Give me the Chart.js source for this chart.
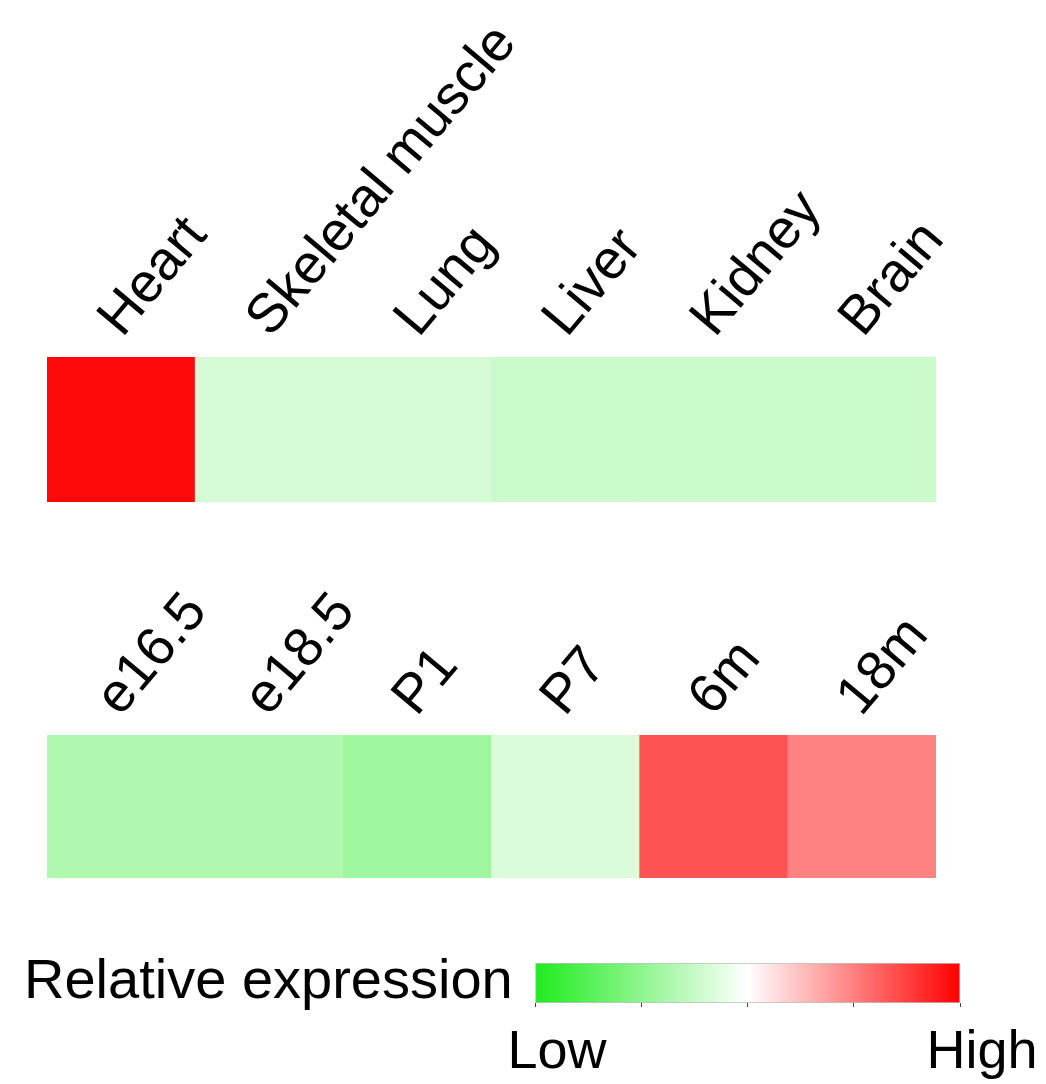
<!DOCTYPE html>
<html>
<head>
<meta charset="utf-8">
<script src="https://cdn.jsdelivr.net/npm/chart.js@4.4.1/dist/chart.umd.min.js"></script>
<style>
  html, body { margin: 0; padding: 0; background: #fff; }
  body { width: 1046px; height: 1084px; position: relative; overflow: hidden;
         font-family: "Liberation Sans", Arial, sans-serif; }
  canvas { position: absolute; left: 0; }
  #legendTitle { position: absolute; left: 24px; top: 951px; font-size: 56px; line-height: 56px;
                 color: #000; white-space: nowrap; }
</style>
</head>
<body>
<canvas id="tissueChart" width="1046" height="520" style="top:0px"></canvas>
<canvas id="stageChart" width="1046" height="380" style="top:520px"></canvas>
<canvas id="scaleChart" width="1046" height="144" style="top:940px"></canvas>
<div id="legendTitle">Relative expression</div>
<script>
// Relative expression on a -1 (low) .. +1 (high) scale
const tissues = ['Heart', 'Skeletal muscle', 'Lung', 'Liver', 'Kidney', 'Brain'];
const tissueExpression = [0.96, -0.19, -0.19, -0.23, -0.23, -0.23];

const stages = ['e16.5', 'e18.5', 'P1', 'P7', '6m', '18m'];
const stageExpression = [-0.35, -0.35, -0.43, -0.16, 0.68, 0.49];

const scaleLabels = ['Low', 'High'];
const scaleTicks = [0, 0.25, 0.5, 0.75, 1];

const FONT = '"Liberation Sans", Arial, sans-serif';
const LOW_RGB = [30, 235, 30];
const MID_RGB = [255, 255, 255];
const HIGH_RGB = [255, 0, 0];

// green - white - red colour map
function expressionColor(v) {
  const t = Math.min(1, Math.abs(v));
  const end = v < 0 ? LOW_RGB : HIGH_RGB;
  const c = MID_RGB.map((m, i) => Math.round(m + (end[i] - m) * t));
  return 'rgb(' + c.join(',') + ')';
}

function heatmapRow(id, labels, values, axisHeight, bottomPad, tickPadding, labelOffset) {
  return new Chart(document.getElementById(id), {
    type: 'bar',
    data: {
      labels: labels,
      datasets: [{
        data: values.map(() => [0, 1]),
        backgroundColor: values.map(expressionColor),
        borderWidth: 0,
        barPercentage: 1,
        categoryPercentage: 1
      }]
    },
    options: {
      responsive: false,
      animation: false,
      devicePixelRatio: 1,
      layout: { padding: { left: 47, right: 110, top: 0, bottom: bottomPad } },
      plugins: { legend: { display: false }, tooltip: { enabled: false } },
      scales: {
        x: {
          position: 'top',
          grid: { display: false, drawTicks: false },
          border: { display: false },
          ticks: {
            color: '#000',
            font: { family: FONT, size: 55 },
            minRotation: 50,
            maxRotation: 50,
            autoSkip: false,
            padding: tickPadding,
            labelOffset: labelOffset
          },
          afterFit(scale) {
            scale.height = axisHeight;
            scale.paddingLeft = 0;
            scale.paddingRight = 0;
          }
        },
        y: { display: false, min: 0, max: 1 }
      }
    }
  });
}

heatmapRow('tissueChart', tissues, tissueExpression, 357, 18, 7, 40);
heatmapRow('stageChart', stages, stageExpression, 215, 22, 6, 38);

// colour key
new Chart(document.getElementById('scaleChart'), {
  type: 'bar',
  data: {
    labels: ['key'],
    datasets: [{
      data: [[0, 1]],
      backgroundColor(ctx) {
        const area = ctx.chart.chartArea;
        if (!area) return 'rgba(0,0,0,0)';
        const g = ctx.chart.ctx.createLinearGradient(area.left, 0, area.right, 0);
        g.addColorStop(0, expressionColor(-1));
        g.addColorStop(0.5, expressionColor(0));
        g.addColorStop(1, expressionColor(1));
        return g;
      },
      borderColor: 'rgba(110,110,110,0.45)',
      borderWidth: 1,
      borderSkipped: false,
      barPercentage: 1,
      categoryPercentage: 1
    }]
  },
  options: {
    indexAxis: 'y',
    responsive: false,
    animation: false,
    devicePixelRatio: 1,
    layout: { padding: { left: 535, right: 86, top: 23, bottom: 0 } },
    plugins: { legend: { display: false }, tooltip: { enabled: false } },
    scales: {
      x: {
        min: 0,
        max: 1,
        position: 'bottom',
        afterBuildTicks(scale) {
          scale.ticks = scaleTicks.map(v => ({ value: v }));
        },
        grid: { drawOnChartArea: false, drawTicks: true, tickLength: 4, color: '#444' },
        border: { display: false },
        ticks: {
          color: '#000',
          font: { family: FONT, size: 54 },
          maxRotation: 0,
          autoSkip: false,
          padding: 14,
          labelOffset: 22,
          callback(value) {
            if (value === 0) return scaleLabels[0];
            if (value === 1) return scaleLabels[1];
            return '';
          }
        },
        afterFit(scale) {
          scale.height = 81;
          scale.paddingLeft = 0;
          scale.paddingRight = 0;
        }
      },
      y: { display: false }
    }
  }
});
</script>
</body>
</html>
